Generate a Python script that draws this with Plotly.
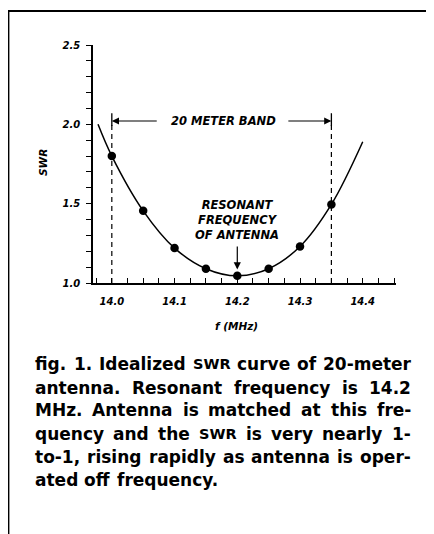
import plotly.graph_objects as go

# ---- data ----
point_freq = [14.0, 14.05, 14.1, 14.15, 14.2, 14.25, 14.3, 14.35]
point_swr = [1.80, 1.455, 1.22, 1.09, 1.045, 1.09, 1.23, 1.495]
curve_freq = [13.978, 14.0, 14.05, 14.1, 14.15, 14.2, 14.25, 14.3, 14.35, 14.4]
curve_swr = [2.0, 1.80, 1.455, 1.22, 1.09, 1.045, 1.09, 1.23, 1.495, 1.89]
band_edges = [14.0, 14.35]
resonant_freq = 14.2
x_ticks = [14.0, 14.1, 14.2, 14.3, 14.4]
x_tick_labels = ["14.0", "14.1", "14.2", "14.3", "14.4"]
y_ticks = [1.0, 1.5, 2.0, 2.5]
y_tick_labels = ["1.0", "1.5", "2.0", "2.5"]
caption_lines = [
    "fig. 1. Idealized SWR curve of 20-meter",
    "antenna. Resonant frequency is 14.2",
    "MHz. Antenna is matched at this fre-",
    "quency and the SWR is very nearly 1-",
    "to-1, rising rapidly as antenna is oper-",
    "ated off frequency.",
]

# ---- layout geometry (reference-pixel coordinates; page body has an 8px margin) ----
OFF = 8
W, H = 434 - OFF, 534 - OFF
L, R, T, B = 93, 396, 45, 283  # plot area in reference pixels


def px(xp):
    return (xp - L) / (R - L)


def py(yp):
    return (B - yp) / (B - T)


FONT = "DejaVu Sans"
lab_font = dict(family=FONT, size=11.5, color="black", weight="bold", style="italic")

fig = go.Figure()
fig.add_trace(go.Scatter(x=curve_freq, y=curve_swr, mode="lines",
                         line=dict(color="black", width=1.5, shape="spline", smoothing=1.0),
                         hoverinfo="skip", showlegend=False))
fig.add_trace(go.Scatter(x=point_freq, y=point_swr, mode="markers",
                         marker=dict(color="black", size=8.5), showlegend=False))

shapes = []
for e in band_edges:
    shapes.append(dict(type="line", xref="x", yref="y", x0=e, x1=e, y0=1.0, y1=2.0,
                       line=dict(color="black", width=1.2, dash="5px,4px")))
    shapes.append(dict(type="line", xref="x", yref="y", x0=e, x1=e, y0=1.99, y1=2.07,
                       line=dict(color="black", width=1.3)))
# page frame
shapes.append(dict(type="line", xref="paper", yref="paper", x0=px(7), x1=px(440),
                   y0=py(11), y1=py(11), line=dict(color="black", width=2)))
shapes.append(dict(type="line", xref="paper", yref="paper", x0=px(8.6), x1=px(8.6),
                   y0=py(10), y1=py(540), line=dict(color="black", width=1.6)))

ann = []
band_y = 2.021
ann.append(dict(x=band_edges[0], y=band_y, ax=14.074, ay=band_y, xref="x", yref="y",
                axref="x", ayref="y", text="", showarrow=True, arrowhead=2,
                arrowsize=1.2, arrowwidth=1.2, arrowcolor="black"))
ann.append(dict(x=band_edges[1], y=band_y, ax=14.279, ay=band_y, xref="x", yref="y",
                axref="x", ayref="y", text="", showarrow=True, arrowhead=2,
                arrowsize=1.2, arrowwidth=1.2, arrowcolor="black"))
ann.append(dict(x=14.178, y=band_y, xref="x", yref="y", text="20 METER BAND",
                showarrow=False, font=lab_font, xanchor="center", yanchor="middle"))
ann.append(dict(x=resonant_freq, y=1.085, ax=resonant_freq, ay=1.24, xref="x", yref="y",
                axref="x", ayref="y", text="", showarrow=True, arrowhead=2,
                arrowsize=1.2, arrowwidth=1.2, arrowcolor="black"))
ann.append(dict(x=resonant_freq, y=1.40, xref="x", yref="y",
                text="RESONANT<br>FREQUENCY<br>OF ANTENNA", showarrow=False,
                font=lab_font, align="center", xanchor="center", yanchor="middle"))
# axis titles
ann.append(dict(x=px(43), y=py(163), xref="paper", yref="paper", text="SWR",
                textangle=-90, showarrow=False, xanchor="center", yanchor="middle",
                font=dict(family=FONT, size=10.5, color="black", weight="bold", style="italic")))
ann.append(dict(x=px(236), y=py(326), xref="paper", yref="paper", text="f (MHz)",
                showarrow=False, xanchor="center", yanchor="middle",
                font=dict(family=FONT, size=10.5, color="black", weight="bold", style="italic")))

# ---- caption: justified, word by word ----
CAP_SIZE = 17
SMALL = 14.5  # "SWR" is set in small capitals in the caption
WID = {" ": .348, ".": .380, ",": .380, "-": .415,
       "a": .675, "b": .716, "c": .593, "d": .716, "e": .678, "f": .435, "g": .716,
       "h": .712, "i": .343, "l": .343, "m": 1.042, "n": .712, "o": .687, "p": .716,
       "q": .716, "r": .493, "s": .595, "t": .478, "u": .712, "v": .652, "y": .652,
       "z": .582, "A": .774, "H": .837, "I": .372, "M": .995, "R": .770, "S": .720,
       "W": 1.103}


def word_size(w):
    return SMALL if w == "SWR" else CAP_SIZE


def word_width(w):
    return sum(WID.get(c, .696) for c in w) * word_size(w)


cap_y = [364, 387.5, 410.5, 434, 457, 480]
left_px, right_px = 33, 409
for i, (line, yy) in enumerate(zip(caption_lines, cap_y)):
    words = line.split(" ")
    widths = [word_width(w) for w in words]
    if i < len(caption_lines) - 1:
        gap = (right_px - left_px - sum(widths)) / (len(words) - 1)
    else:
        gap = WID[" "] * CAP_SIZE
    x = left_px
    for w, wd in zip(words, widths):
        ann.append(dict(x=px(x), y=py(yy), xref="paper", yref="paper", text=w,
                        xanchor="left", yanchor="middle", showarrow=False,
                        font=dict(family=FONT, size=word_size(w), color="black", weight="bold")))
        x += wd + gap

tickfont = dict(family=FONT, size=10, color="black", weight="bold", style="italic")
fig.update_layout(
    width=W, height=H, autosize=False,
    margin=dict(l=L - OFF, r=(W + OFF) - R, t=T - OFF, b=(H + OFF) - B, pad=0),
    paper_bgcolor="white", plot_bgcolor="white",
    shapes=shapes, annotations=ann,
    xaxis=dict(range=[13.97, 14.453], tickvals=x_ticks, ticktext=x_tick_labels,
               showgrid=False, zeroline=False, showline=True, linecolor="black", linewidth=1.5,
               ticks="inside", ticklen=5, tickwidth=1.2, tickcolor="black",
               tickfont=tickfont, ticklabelstandoff=8,
               minor=dict(dtick=0.025, tick0=14.0, ticks="inside", ticklen=5,
                          tickwidth=1.2, tickcolor="black", showgrid=False)),
    yaxis=dict(range=[1.0, 2.5], tickvals=y_ticks, ticktext=y_tick_labels,
               showgrid=False, zeroline=False, showline=True, linecolor="black", linewidth=1.5,
               ticks="outside", ticklen=5, tickwidth=1.2, tickcolor="black",
               tickfont=tickfont, ticklabelstandoff=4,
               minor=dict(dtick=0.1, tick0=1.0, ticks="outside", ticklen=5,
                          tickwidth=1.2, tickcolor="black", showgrid=False)),
)
fig.write_html("out.html")
